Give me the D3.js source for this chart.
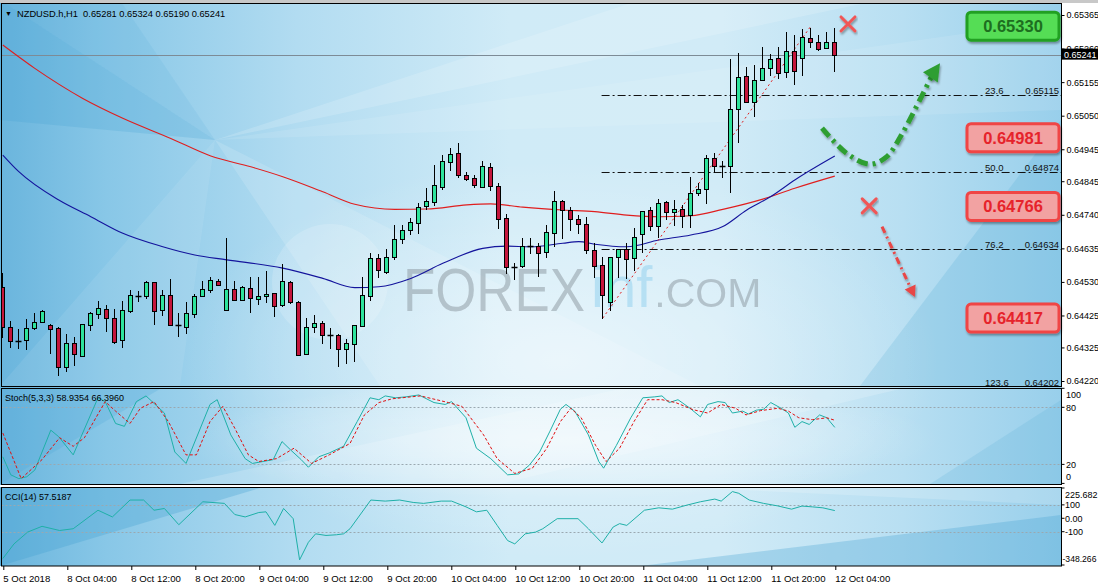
<!DOCTYPE html>
<html><head><meta charset="utf-8">
<script src="https://cdn.jsdelivr.net/npm/d3@7/dist/d3.min.js"></script>
<style>
html,body{margin:0;padding:0;background:#fff;overflow:hidden}
svg text{font-family:"Liberation Sans",Arial,sans-serif}
</style></head><body>
<svg id="chart" width="1098" height="587"></svg>
<script>
// ================= DATA =================
const headerText = "NZDUSD.h,H1  0.65281 0.65324 0.65190 0.65241";
const stochTitle = "Stoch(5,3,3) 58.9354 66.3960";
const cciTitle = "CCI(14) 57.5187";

const opens  = [.64513,.64388,.64346,.64347,.64387,.64406,.64394,.64385,.64264,.64338,.64299,.64394,.64430,.64444,.64416,.64347,.64440,.64485,.64485,.64529,.64441,.64488,.64395,.64390,.64429,.64485,.64506,.64533,.64441,.64507,.64474,.64510,.64478,.64486,.64494,.64459,.64530,.64467,.64306,.64390,.64401,.64363,.64363,.64319,.64337,.64393,.64487,.64604,.64562,.64609,.64663,.64692,.64713,.64769,.64779,.64828,.64906,.64932,.64865,.64854,.64828,.64889,.64830,.64729,.64578,.64580,.64641,.64642,.64623,.64684,.64783,.64755,.64726,.64710,.64630,.64583,.64468,.64607,.64632,.64604,.64680,.64755,.64705,.64779,.64749,.64759,.64739,.64807,.64820,.64917,.64893,.64893,.65070,.65175,.65093,.65161,.65198,.65232,.65186,.65252,.65230,.65292,.65282,.65261,.65281];
const highs  = [.64557,.64409,.64384,.64413,.64434,.64441,.64397,.64388,.64367,.64357,.64397,.64437,.64470,.64458,.64445,.64471,.64505,.64502,.64534,.64531,.64506,.64538,.64432,.64467,.64491,.64533,.64544,.64538,.64666,.64534,.64517,.64546,.64545,.64564,.64494,.64585,.64532,.64469,.64418,.64427,.64409,.64385,.64367,.64351,.64394,.64546,.64620,.64617,.64633,.64708,.64708,.64729,.64776,.64823,.64896,.64926,.64948,.64964,.64873,.64864,.64909,.64901,.64839,.64742,.64590,.64668,.64668,.64651,.64708,.64815,.64786,.64764,.64739,.64732,.64651,.64609,.64609,.64633,.64651,.64698,.64753,.64765,.64789,.64784,.64786,.64771,.64859,.64839,.64927,.64934,.64909,.65226,.65245,.65203,.65209,.65264,.65242,.65264,.65313,.65303,.65321,.65324,.65303,.65313,.65324];
const lows   = [.64357,.64327,.64323,.64319,.64383,.64404,.64309,.64240,.64250,.64271,.64299,.64380,.64416,.64377,.64338,.64326,.64435,.64471,.64479,.64398,.64428,.64394,.64362,.64371,.64421,.64485,.64499,.64520,.64441,.64474,.64474,.64437,.64461,.64467,.64424,.64456,.64465,.64302,.64304,.64374,.64340,.64323,.64268,.64277,.64284,.64393,.64473,.64546,.64559,.64601,.64651,.64680,.64682,.64759,.64771,.64820,.64880,.64857,.64848,.64828,.64828,.64818,.64700,.64557,.64538,.64576,.64620,.64550,.64609,.64643,.64666,.64692,.64684,.64620,.64546,.64417,.64442,.64546,.64541,.64567,.64625,.64692,.64672,.64726,.64708,.64703,.64703,.64802,.64778,.64875,.64859,.64812,.64969,.65092,.65050,.65161,.65177,.65167,.65172,.65149,.65177,.65264,.65256,.65261,.65190];
const closes = [.64388,.64344,.64346,.64385,.64404,.64439,.64382,.64264,.64338,.64304,.64397,.64432,.64448,.64416,.64343,.64441,.64488,.64485,.64529,.64438,.64488,.64394,.64395,.64432,.64486,.64507,.64536,.64521,.64507,.64474,.64513,.64481,.64485,.64492,.64456,.64533,.64467,.64302,.64390,.64401,.64363,.64363,.64319,.64338,.64394,.64488,.64606,.64567,.64607,.64663,.64692,.64717,.64765,.64783,.64833,.64907,.64930,.64864,.64851,.64832,.64893,.64831,.64726,.64578,.64578,.64642,.64641,.64621,.64685,.64783,.64755,.64726,.64710,.64630,.64581,.64489,.64609,.64633,.64601,.64672,.64753,.64705,.64776,.64749,.64758,.64736,.64807,.64820,.64917,.64893,.64893,.65070,.65172,.65092,.65161,.65198,.65228,.65183,.65252,.65190,.65297,.65282,.65258,.65282,.65241];

// moving averages: [bar, price]
const maRed = [[0,.65271],[4,.65198],[10,.65104],[15,.65042],[21,.64979],[26,.64924],[31,.64890],[35,.64859],[40,.64812],[44,.64773],[49,.64757],[53,.64758],[58,.64771],[61,.64774],[65,.64764],[70,.64755],[74,.64750],[78,.64739],[82,.64734],[86,.64737],[90,.64757],[95,.64789],[99,.64823],[104,.64861]];
const maBlue = [[0,.64927],[2,.64875],[7,.64786],[11,.64734],[15,.64682],[20,.64640],[24,.64614],[28,.64599],[35,.64573],[40,.64541],[44,.64512],[47,.64515],[51,.64541],[55,.64588],[60,.64635],[63,.64642],[66,.64640],[70,.64651],[72,.64656],[74,.64648],[78,.64640],[82,.64661],[86,.64677],[90,.64703],[93,.64755],[96,.64797],[99,.64849],[104,.64924]];

// stochastic %K and %D: [bar, value]
const stochK = [[0,28],[1,9],[2,5],[3,7],[4,14],[6,56],[7,49],[8.8,30],[11.9,90],[12.8,86],[14.1,63],[15.2,60],[16.7,86],[17.9,92],[20.2,74],[21.5,33],[22.9,21],[25.9,83],[26.8,88],[28.5,51],[30.3,26],[31.2,21],[33.8,25],[34.9,44],[36,35],[37.3,25],[38.2,17],[39.5,28],[40.8,32],[42.6,39],[44.3,65],[45.9,90],[47,88],[47.8,92],[49.1,90],[50.4,91],[52,93],[53.9,85],[55.3,83],[56.1,86],[57.9,69],[59.2,37],[61,26],[63.1,9],[64.5,10],[65.8,19],[67.1,33],[68.4,55],[69.7,78],[70.4,83],[71.5,76],[73.2,51],[74.5,23],[75.1,16],[76.7,40],[78.5,69],[80,90],[81.5,91],[82.4,92],[83.3,85],[84.4,88],[85.9,79],[87.2,70],[88.1,83],[89.4,86],[90.3,85],[91.2,74],[92.5,76],[93.2,73],[94.2,77],[95.1,78],[96,85],[97.3,79],[98.2,74],[99,59],[99.9,65],[100.8,62],[102.1,72],[103,69],[104,58.9]];
const stochD = [[0,53],[2.3,5],[4.9,25],[7.1,48],[8.8,39],[10.2,48],[12.8,86],[14.1,76],[15.9,63],[17.2,79],[18.9,86],[20.7,65],[22.9,30],[24.2,30],[25.9,65],[27.5,81],[29,58],[30.7,30],[32,23],[34.2,26],[36.4,37],[38.6,21],[40.8,30],[43.4,42],[45.2,72],[47,85],[48.7,89],[52.2,92],[55.7,85],[57.4,81],[60.1,51],[61.8,26],[64,10.5],[66.2,16],[68,37],[69.7,65],[71,79],[72.3,69],[74.1,40],[75.4,23],[77.1,37],[78.9,65],[80.6,88],[82.4,88],[84.1,85],[86.3,77.5],[88.1,74],[89.8,83],[91.6,79],[92.9,72],[94.7,76.5],[96.9,79],[98.2,76],[99.5,69],[101.2,67],[103,69],[104,66.4]];

// CCI(14): [bar, value]
const cci = [[0,-300],[1.4,-191],[3.1,-103],[4.9,-60],[7.1,-91],[8.8,-78],[11.9,60],[13.7,10],[15.9,136],[17.6,136],[18.9,60],[20.2,73],[22,-48],[25,123],[27.7,111],[29,28],[30.3,10],[32,43],[32.9,48],[34,-53],[35.1,73],[36.3,-3],[37.1,-310],[38.2,-179],[39.1,-116],[40.4,-128],[41.7,-123],[42.6,-116],[43.4,-78],[46,136],[47.8,128],[49.6,136],[51.3,118],[52.6,111],[54.8,128],[56.1,128],[57.9,85],[59.2,48],[60.5,60],[61.8,-53],[63.1,-166],[64,-191],[65.3,-116],[66.6,-103],[67.5,-78],[69.3,-3],[71.9,-3],[73.2,-78],[74.9,-184],[76.3,-65],[77.1,-40],[78,-53],[80.2,60],[82,78],[83.7,68],[85.5,98],[87.2,123],[89,143],[89.8,128],[91.2,199],[92,186],[93.3,136],[95.1,111],[96.8,93],[98.6,68],[99.9,91],[101.2,85],[102.5,78],[104,57.5]];

// axes
const timeTickBars = [0,8,16,24,32,40,48,56,64,72,80,88,96,104];
const timeTickLabels = ["5 Oct 2018","8 Oct 04:00","8 Oct 12:00","8 Oct 20:00","9 Oct 04:00","9 Oct 12:00","9 Oct 20:00","10 Oct 04:00","10 Oct 12:00","10 Oct 20:00","11 Oct 04:00","11 Oct 12:00","11 Oct 20:00","12 Oct 04:00"];
const priceTicks = [0.65365,0.65260,0.65155,0.65050,0.64945,0.64845,0.64740,0.64635,0.64530,0.64425,0.64325,0.64220];
const stochTicks = [100,80,20,0];
const stochLevels = [80,20];
const cciTicks = [225.682,100,0,-100,-348.266];
const cciTickLabels = ["225.682","100","0.00","-100","-348.266"];
const cciLevels = [100,-100];

// annotations
const currentPrice = 0.65241;
const levelPrices = [0.65330,0.64981,0.64766,0.64417];
const levelKinds = ["green","red","red","red"];
const levelStartBar = [74.6,74.7,74.2,75];
const fibPcts = ["23.6","50.0","76.2","123.6"];
const fibPrices = [0.65115,0.64874,0.64634,0.64202];
const fibFromBar = 74.85;
const fibTrend = [[75,0.64417],[101,0.65330]];
const greenArrow = [[102.4,0.65011],[105.5,0.64932],[108.4,0.64898],[110.5,0.64922],[112.2,0.64984],[114.2,0.65078],[116.3,0.65183],[117.15,0.65214]];
const redArrow = [[109.9,0.64703],[114.0,0.64483]];
const crossMarks = [[105.65,0.65337],[108.3,0.64768]];

// ================= LAYOUT =================
const svg = d3.select("#chart");
const L = 1.5, R = 1061.5;
const mainT = 3.5, mainB = 386.5, stT = 388.5, stB = 484.5, cT = 487.5, cB = 566;

const x = d3.scaleLinear().domain([0,104]).range([2.8,834.8]);
const y = d3.scaleLinear().domain([0.64220,0.65365]).range([381,15]);
const yS = d3.scaleLinear().domain([0,100]).range([483.4,388.3]);
const yC = d3.scaleLinear().domain([-348.266,225.682]).range([565,488]);

const defs = svg.append("defs");
const bg = defs.append("linearGradient").attr("id","bg").attr("x1",0).attr("x2",1).attr("y1",0).attr("y2",0);
[[0,"#6ab5dd"],[0.1,"#88c7e7"],[0.28,"#b2dcf1"],[0.48,"#d0ebf7"],[0.68,"#d1ebf7"],[0.85,"#b8dff2"],[1,"#98cfeb"]]
  .forEach(s=>bg.append("stop").attr("offset",s[0]).attr("stop-color",s[1]));
const rg = defs.append("radialGradient").attr("id","glow").attr("cx",0.5).attr("cy",0.5).attr("r",0.5);
rg.append("stop").attr("offset",0).attr("stop-color","#fff").attr("stop-opacity",0.5);
rg.append("stop").attr("offset",1).attr("stop-color","#fff").attr("stop-opacity",0);
const sh = defs.append("filter").attr("id","sh").attr("x","-20%").attr("y","-50%").attr("width","140%").attr("height","200%");
sh.append("feDropShadow").attr("dx",1).attr("dy",2).attr("stdDeviation",1.3).attr("flood-color","#000").attr("flood-opacity",0.35);
defs.append("clipPath").attr("id","clipMain").append("rect").attr("x",2).attr("y",4).attr("width",1059).attr("height",382);
defs.append("clipPath").attr("id","clipSt").append("rect").attr("x",2).attr("y",389).attr("width",1059).attr("height",95);
defs.append("clipPath").attr("id","clipC").append("rect").attr("x",2).attr("y",488).attr("width",1059).attr("height",78);

// background
const bgG = svg.append("g");
bgG.append("rect").attr("x",0).attr("y",0).attr("width",1062).attr("height",566).attr("fill","url(#bg)");
const polys = [
  [[[0,0],[215,140],[0,120]],"#3f9fd0",0.22],
  [[[0,0],[120,0],[215,140]],"#4aa6d4",0.12],
  [[[215,140],[640,0],[880,0]],"#ffffff",0.16],
  [[[215,140],[1061,20],[1061,110]],"#ffffff",0.1],
  [[[215,140],[0,386],[180,386]],"#ffffff",0.08],
  [[[215,140],[380,386],[700,386]],"#ffffff",0.14],
  [[[860,386],[1061,120],[1061,386]],"#5aaed9",0.25],
  [[[0,389],[160,389],[0,484]],"#4aa6d4",0.22],
  [[[180,484],[620,389],[900,389],[500,484]],"#ffffff",0.18],
  [[[930,484],[1061,400],[1061,484]],"#5aaed9",0.2],
  [[[0,488],[260,488],[0,566]],"#3f9fd0",0.3],
  [[[640,566],[1061,515],[1061,566]],"#4aa6d4",0.32],
  [[[700,488],[1061,488],[1061,505]],"#ffffff",0.18]
];
polys.forEach(p=>bgG.append("path").attr("d","M"+p[0].map(q=>q.join(",")).join("L")+"Z").attr("fill",p[1]).attr("opacity",p[2]));
bgG.append("ellipse").attr("cx",560).attr("cy",360).attr("rx",380).attr("ry",200).attr("fill","url(#glow)");
bgG.append("ellipse").attr("cx",560).attr("cy",440).attr("rx",380).attr("ry",60).attr("fill","url(#glow)");
// watermark (one text with coloured spans so the parts never collide)
const wm = svg.append("g").attr("clip-path","url(#clipMain)");
wm.append("circle").attr("cx",330).attr("cy",282).attr("r",58).attr("fill","#fff").attr("opacity",0.16);
const wmt = wm.append("text").attr("x",403).attr("y",311).attr("opacity",0.5);
wmt.append("tspan").attr("font-size",62).attr("fill","#8a969e").attr("textLength",182).attr("lengthAdjust","spacingAndGlyphs").text("FOREX");
wmt.append("tspan").attr("font-size",58).attr("fill","#8fd0ef").attr("dx",6).attr("dy",-4).text("inf");
wmt.append("tspan").attr("font-size",41).attr("fill","#8a969e").attr("dx",2).text(".COM");

// white gaps between panels & axis areas
svg.append("rect").attr("x",1062).attr("y",0).attr("width",36).attr("height",587).attr("fill","#fff");
svg.append("rect").attr("x",0).attr("y",566.5).attr("width",1098).attr("height",21).attr("fill","#fff");
svg.append("rect").attr("x",0).attr("y",485).attr("width",1062).attr("height",2).attr("fill","#fff");
svg.append("rect").attr("x",0).attr("y",0).attr("width",1098).attr("height",3).attr("fill","#c8c8c8");

// ================= MAIN PANEL =================
const main = svg.append("g").attr("clip-path","url(#clipMain)");
main.append("line").attr("x1",L).attr("x2",R).attr("y1",Math.round(y(currentPrice))+0.5).attr("y2",Math.round(y(currentPrice))+0.5).attr("stroke","#7d8b96").attr("stroke-width",1);

fibPrices.forEach((p,k)=>{
  const yy = Math.round(y(p))+0.5;
  main.append("line").attr("x1",x(fibFromBar)).attr("x2",R).attr("y1",yy).attr("y2",yy).attr("stroke","#111").attr("stroke-width",1).attr("stroke-dasharray","8,3,2,3");
  main.append("text").attr("x",985).attr("y",yy-2).attr("font-size",9.5).attr("fill","#111").text(fibPcts[k]);
  main.append("text").attr("x",1059).attr("y",yy-2).attr("font-size",9.5).attr("fill","#111").attr("text-anchor","end").text(d3.format(".5f")(p));
});

const maLine = d3.line().x(d=>x(d[0])).y(d=>y(d[1])).curve(d3.curveMonotoneX);
main.append("path").attr("d",maLine(maRed)).attr("fill","none").attr("stroke","#e01e1e").attr("stroke-width",1.1);
main.append("path").attr("d",maLine(maBlue)).attr("fill","none").attr("stroke","#14149c").attr("stroke-width",1.1);

main.append("line").attr("x1",x(fibTrend[0][0])).attr("y1",y(fibTrend[0][1])).attr("x2",x(fibTrend[1][0])).attr("y2",y(fibTrend[1][1]))
  .attr("stroke","#e02020").attr("stroke-width",1).attr("stroke-dasharray","2,3");

// candles
const bars = d3.range(opens.length);
const cg = main.append("g");
const cx = i=>Math.floor(x(i))+0.5;
cg.selectAll("line.wick").data(bars).join("line").attr("class","wick")
  .attr("x1",cx).attr("x2",cx).attr("y1",i=>Math.round(y(highs[i]))).attr("y2",i=>Math.round(y(lows[i]))+1)
  .attr("stroke","#000").attr("stroke-width",1);
const bodies = bars.filter(i=>Math.abs(closes[i]-opens[i])>=0.00002);
cg.selectAll("rect.body").data(bodies).join("rect").attr("class","body")
  .attr("x",i=>cx(i)-2).attr("width",4)
  .attr("y",i=>Math.round(y(Math.max(opens[i],closes[i])))+0.5)
  .attr("height",i=>Math.max(1,Math.round(y(Math.min(opens[i],closes[i])))-Math.round(y(Math.max(opens[i],closes[i])))))
  .attr("fill",i=>closes[i]>opens[i]?"#2ee39c":"#c4163c").attr("stroke","#000").attr("stroke-width",1);
const dojis = bars.filter(i=>Math.abs(closes[i]-opens[i])<0.00002);
cg.selectAll("line.doji").data(dojis).join("line").attr("class","doji")
  .attr("x1",i=>cx(i)-3).attr("x2",i=>cx(i)+3).attr("y1",i=>Math.round(y(opens[i]))+0.5).attr("y2",i=>Math.round(y(opens[i]))+0.5)
  .attr("stroke","#000").attr("stroke-width",1.5);

// level lines and boxes
const ann = svg.append("g");
levelPrices.forEach((p,k)=>{
  const green = levelKinds[k]==="green";
  const col = green ? "#33a336" : "#f04848";
  const yy = y(p);
  ann.append("line").attr("x1",x(levelStartBar[k])).attr("x2",968).attr("y1",yy).attr("y2",yy)
    .attr("stroke",col).attr("stroke-width",green?3.5:3).attr("filter","url(#sh)");
  ann.append("rect").attr("x",967).attr("y",yy-14).attr("width",92).attr("height",28).attr("rx",4)
    .attr("fill",green?"#54dd55":"#f2a2a2").attr("stroke",green?"#22a024":"#f04444").attr("stroke-width",3).attr("filter","url(#sh)");
  ann.append("text").attr("x",1013).attr("y",yy+6).attr("text-anchor","middle").attr("font-size",16.5).attr("font-weight","bold")
    .attr("fill",green?"#1d6e1f":"#e6232b").text(d3.format(".5f")(p));
});

crossMarks.forEach(c=>{
  const px=x(c[0]), py=y(c[1]), s=7;
  ann.append("path").attr("d",`M${px-s},${py-s}L${px+s},${py+s}M${px-s},${py+s}L${px+s},${py-s}`)
    .attr("stroke","#f05656").attr("stroke-width",3).attr("stroke-linecap","round").attr("filter","url(#sh)");
});

function arrowHead(pts,len,w){
  const a=pts[pts.length-2], b=pts[pts.length-1];
  const dx=b[0]-a[0], dy=b[1]-a[1], n=Math.hypot(dx,dy), ux=dx/n, uy=dy/n;
  const bx=b[0]-ux*len, by=b[1]-uy*len;
  return `M${b[0]},${b[1]}L${bx-uy*w},${by+ux*w}L${bx+uy*w},${by-ux*w}Z`;
}
const gp = greenArrow.map(d=>[x(d[0]),y(d[1])]);
ann.append("path").attr("d",d3.line().curve(d3.curveCatmullRom)(gp.slice(0,-1))).attr("fill","none")
  .attr("stroke","#2f9e33").attr("stroke-width",5).attr("stroke-dasharray","11,5,3,5").attr("filter","url(#sh)");
ann.append("path").attr("d",arrowHead(gp,17,9)).attr("fill","#2f9e33").attr("filter","url(#sh)");
const rp = redArrow.map(d=>[x(d[0]),y(d[1])]);
const rEnd = [rp[1][0]-(rp[1][0]-rp[0][0])*0.1, rp[1][1]-(rp[1][1]-rp[0][1])*0.1];
ann.append("path").attr("d",d3.line()([rp[0],rEnd])).attr("fill","none")
  .attr("stroke","#e84646").attr("stroke-width",3).attr("stroke-dasharray","7,4,2,4").attr("filter","url(#sh)");
ann.append("path").attr("d",arrowHead(rp,11,6)).attr("fill","#e84646").attr("filter","url(#sh)");

// header
svg.append("text").attr("x",5).attr("y",16).attr("font-size",7).attr("fill","#000").text("▼");
svg.append("text").attr("x",17).attr("y",16.5).attr("font-size",9.3).attr("fill","#000").style("white-space","pre").text(headerText);

// price axis (the 0.65260 label sits behind the current-price tag, as in MT4)
const pAxis = svg.append("g").attr("transform",`translate(${R},0)`)
  .call(d3.axisRight(y).tickValues(priceTicks).tickFormat(d3.format(".5f")).tickSize(3).tickPadding(2));
pAxis.select(".domain").remove();
pAxis.selectAll("text").attr("font-size",9).attr("font-family","Liberation Sans, Arial").attr("fill","#000");
pAxis.selectAll("line").attr("stroke","#000");
const cy0 = y(currentPrice);
svg.append("rect").attr("x",R).attr("y",cy0-6).attr("width",37).attr("height",11).attr("fill","#000");
svg.append("text").attr("x",R+2.5).attr("y",cy0+3.3).attr("font-size",9).attr("fill","#fff").text(d3.format(".5f")(currentPrice));

// ================= STOCH PANEL =================
const st = svg.append("g").attr("clip-path","url(#clipSt)");
stochLevels.forEach(v=>st.append("line").attr("x1",L).attr("x2",R).attr("y1",Math.round(yS(v))+0.5).attr("y2",Math.round(yS(v))+0.5)
  .attr("stroke","#9aa8b0").attr("stroke-dasharray","2,2"));
const sLine = d3.line().x(d=>x(d[0])).y(d=>yS(d[1]));
st.append("path").attr("d",sLine(stochK)).attr("fill","none").attr("stroke","#1fb0a8").attr("stroke-width",1);
st.append("path").attr("d",sLine(stochD)).attr("fill","none").attr("stroke","#e01010").attr("stroke-width",1).attr("stroke-dasharray","3,2");
svg.append("text").attr("x",5).attr("y",400.5).attr("font-size",9).attr("fill","#000").text(stochTitle);
stochTicks.forEach(v=>{
  const off = v===100?6:(v===0?-7:0);
  const yy = yS(v);
  svg.append("line").attr("x1",R).attr("x2",R+3).attr("y1",yy).attr("y2",yy).attr("stroke","#000");
  svg.append("text").attr("x",1066).attr("y",yy+off+3.3).attr("font-size",9).attr("fill","#000").text(v);
});

// ================= CCI PANEL =================
const cc = svg.append("g").attr("clip-path","url(#clipC)");
cciLevels.forEach(v=>cc.append("line").attr("x1",L).attr("x2",R).attr("y1",Math.round(yC(v))+0.5).attr("y2",Math.round(yC(v))+0.5)
  .attr("stroke","#9aa8b0").attr("stroke-dasharray","2,2"));
cc.append("path").attr("d",d3.line().x(d=>x(d[0])).y(d=>yC(d[1]))(cci)).attr("fill","none").attr("stroke","#1fb0a8").attr("stroke-width",1);
svg.append("text").attr("x",5).attr("y",500).attr("font-size",9).attr("fill","#000").text(cciTitle);
cciTicks.forEach((v,k)=>{
  const off = k===0?6.5:(k===cciTicks.length-1?-6:0);
  const yy = yC(v);
  svg.append("line").attr("x1",R).attr("x2",R+3).attr("y1",yy).attr("y2",yy).attr("stroke","#000");
  svg.append("text").attr("x",k===cciTicks.length-1?1062.5:1065).attr("y",yy+off+3.3).attr("font-size",k===cciTicks.length-1?8.6:9).attr("fill","#000").text(cciTickLabels[k]);
});

// panel borders
[[mainT,mainB],[stT,stB],[cT,cB]].forEach(p=>{
  svg.append("rect").attr("x",L).attr("y",p[0]).attr("width",R-L).attr("height",p[1]-p[0]).attr("fill","none").attr("stroke","#000").attr("stroke-width",1);
});

// time axis
const tAxis = svg.append("g").attr("transform",`translate(0,${cB})`)
  .call(d3.axisBottom(x).tickValues(timeTickBars).tickFormat((d,i)=>timeTickLabels[i]).tickSize(4).tickPadding(3));
tAxis.select(".domain").remove();
tAxis.selectAll("line").attr("stroke","#000").attr("transform","translate(0.5,0)");
tAxis.selectAll("text").attr("text-anchor","start").attr("font-size",9.6).attr("font-family","Liberation Sans, Arial").attr("fill","#000").attr("dy","0.9em");
</script>
</body></html>
